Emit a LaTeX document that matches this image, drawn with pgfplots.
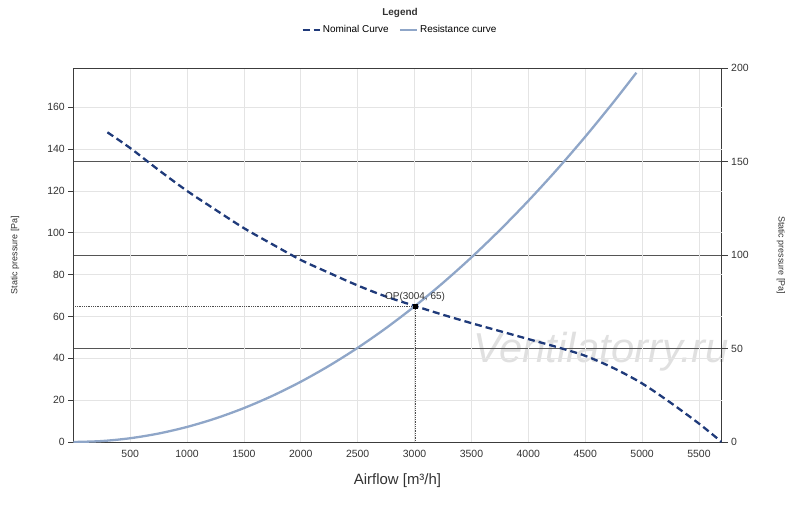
\documentclass[border=0pt]{standalone}
\usepackage{fontspec}
\setmainfont{Liberation Sans}
\usepackage{pgfplots}
\pgfplotsset{compat=1.18}
\definecolor{nomblue}{RGB}{31,58,122}
\definecolor{resblue}{RGB}{143,166,200}
\definecolor{gridlight}{RGB}{228,228,228}
\definecolor{griddark}{RGB}{85,85,85}
\definecolor{axisgray}{RGB}{60,60,60}
\definecolor{txtgray}{RGB}{50,50,50}
\begin{document}
\begin{tikzpicture}
\useasboundingbox (-73.3bp,-65bp) rectangle (726.7bp,442bp);
\node[font=\fontsize{42}{42}\selectfont\itshape, text=black!12] at (527.7bp,90bp) {Ventilatorry.ru};
% right axis (drawn first, its grid under the curves)
\begin{axis}[at={(0,0)}, anchor=south west, scale only axis,
  width=648.4bp, height=373.7bp,
  xmin=0, xmax=5700, ymin=0, ymax=200,
  axis y line*=right, axis x line=none,
  ytick={0,50,...,200}, ymajorgrids,
  major grid style={griddark, line width=0.8bp},
  axis line style={axisgray, line width=0.8bp},
  tick align=outside, major tick length=6bp,
  tick style={axisgray, line width=0.8bp},
  yticklabel style={font=\fontsize{10.5}{10.5}\selectfont, text=txtgray},
  /pgf/number format/assume math mode=true,
  ylabel={Static pressure [Pa]},
  ylabel style={at={(axis description cs:1.0915,0.5)}, anchor=center, rotate=180,
    font=\fontsize{9}{9}\selectfont, text=txtgray},
]
\addplot[draw=none, forget plot] coordinates {(0,0)};
\end{axis}
% left axis with curves
\begin{axis}[at={(0,0)}, anchor=south west, scale only axis,
  width=648.4bp, height=373.7bp,
  xmin=0, xmax=5700, ymin=0, ymax=178.6,
  axis y line*=left,
  xtick={500,1000,...,5500}, ytick={0,20,...,160},
  grid=major, major grid style={gridlight, line width=0.8bp},
  axis line style={axisgray, line width=0.8bp},
  tick align=outside, major tick length=5bp,
  tick style={axisgray, line width=0.8bp},
  xtick style={draw=none},
  ticklabel style={font=\fontsize{10.5}{10.5}\selectfont, text=txtgray},
  /pgf/number format/assume math mode=true,
  /pgf/number format/1000 sep={},
  xlabel={Airflow [m³/h]},
  xlabel style={at={(axis description cs:0.5,-0.1044)}, anchor=center,
    font=\fontsize{15}{15}\selectfont, text=txtgray},
  ylabel={Static pressure [Pa]},
  ylabel style={at={(axis description cs:-0.0899,0.5)}, anchor=center,
    font=\fontsize{9}{9}\selectfont, text=txtgray},
  legend style={at={(axis description cs:0.5039,1.1025)}, anchor=center,
    draw=none, fill=none, legend columns=2,
    font=\fontsize{10}{10}\selectfont,
    /tikz/every even column/.append style={column sep=8bp}},
  legend cell align=left,
]
\addplot[nomblue, line width=2.3bp, dash pattern=on 7bp off 4bp, smooth, tension=0.5] coordinates {
(300,148) (500,140.5) (750,130) (1000,120) (1250,111) (1500,102.2)
(1750,94.5) (2000,87) (2250,80.8) (2500,74.8) (2750,69.5) (3004,65)
(3250,60.8) (3500,56.8) (3750,53) (4000,49.2) (4250,45.4) (4500,41.2)
(4750,35.3) (5000,28) (5250,18.8) (5500,8.8) (5700,0)};
\addlegendentry{Nominal Curve}
\addplot[resblue, line width=2.3bp, smooth, tension=0.5] coordinates {
(0,0) (250,0.45) (500,1.80) (750,4.05) (1000,7.20) (1250,11.25) (1500,16.21)
(1750,22.06) (2000,28.81) (2250,36.47) (2500,45.02) (2750,54.47) (3000,64.83)
(3250,76.08) (3500,88.24) (3750,101.29) (4000,115.25) (4250,130.10)
(4500,145.86) (4750,162.52) (4950,176.49)};
\addlegendentry{Resistance curve}
\addplot[forget plot, black!70, densely dotted, line width=0.8bp] coordinates {(0,65) (3004,65) (3004,0)};
\addplot[forget plot, only marks, mark=square*, mark size=1.8bp, black] coordinates {(3004,65)}
  node[above, yshift=1bp, font=\fontsize{10}{10}\selectfont, text=txtgray] {OP(3004, 65)};
\end{axis}
\node[font=\fontsize{10}{10}\selectfont\bfseries, text=txtgray] at (326.7bp,429bp) {Legend};
\end{tikzpicture}
\end{document}
